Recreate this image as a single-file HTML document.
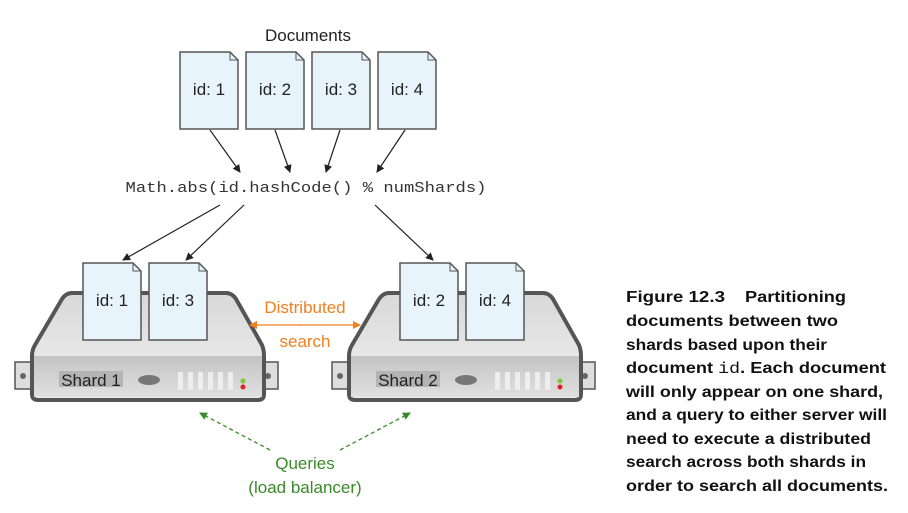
<!DOCTYPE html>
<html><head><meta charset="utf-8"><style>
body{margin:0;background:#fff}
svg{display:block}
.t{font-family:"Liberation Sans",sans-serif}
.c{font-family:"Liberation Sans",sans-serif;font-weight:bold;font-size:16px;fill:#111}
</style></head><body>
<svg width="908" height="513" viewBox="0 0 908 513" xmlns="http://www.w3.org/2000/svg">
<defs>
<marker id="ab" markerWidth="8" markerHeight="8" refX="7" refY="4" orient="auto" markerUnits="userSpaceOnUse"><path d="M0,0 L8,4 L0,8 z" fill="#222"/></marker>
<marker id="ao" markerWidth="8" markerHeight="8" refX="7" refY="4" orient="auto" markerUnits="userSpaceOnUse"><path d="M0,0 L8,4 L0,8 z" fill="#f08020"/></marker>
<marker id="ag" markerWidth="8" markerHeight="8" refX="7" refY="4" orient="auto" markerUnits="userSpaceOnUse"><path d="M0,0 L8,4 L0,8 z" fill="#3a8a2a"/></marker>
<linearGradient id="top" x1="0" y1="0" x2="0" y2="1"><stop offset="0" stop-color="#d8d8d8"/><stop offset="1" stop-color="#f2f2f2"/></linearGradient>
<linearGradient id="front" x1="0" y1="0" x2="0" y2="1"><stop offset="0" stop-color="#c4c4c4"/><stop offset="1" stop-color="#e0e0e0"/></linearGradient>
<g id="doc"><path d="M0,0 H50 L58,8 V77 H0 Z" fill="#e8f4fc" stroke="#555" stroke-width="1.5"/><path d="M50,0 V8 H58" fill="none" stroke="#555" stroke-width="1"/></g>
<g id="srv">
<rect x="15" y="362" width="20" height="27" fill="#ddd" stroke="#555" stroke-width="1.5"/>
<circle cx="23" cy="376" r="3" fill="#666"/>
<rect x="258" y="362" width="20" height="27" fill="#ddd" stroke="#555" stroke-width="1.5"/>
<circle cx="268" cy="376" r="3" fill="#666"/>
<path d="M72,293 H226 Q232,293 236,299 L262,345 Q264,350 264,356 V394 Q264,400 258,400 H38 Q32,400 32,394 V356 Q32,350 35,345 L62,299 Q66,293 72,293 Z" fill="url(#top)" stroke="#555" stroke-width="4"/>
<path d="M34,356 H262 V397 H34 Z" fill="url(#front)"/>
<rect x="59" y="371" width="64" height="16" fill="#b4b4b4"/>
<ellipse cx="149" cy="380" rx="11" ry="5" fill="#777"/>
<g fill="#eee"><rect x="178" y="372" width="5" height="18"/><rect x="188" y="372" width="5" height="18"/><rect x="198" y="372" width="5" height="18"/><rect x="208" y="372" width="5" height="18"/><rect x="218" y="372" width="5" height="18"/><rect x="228" y="372" width="5" height="18"/></g>
<circle cx="243" cy="381" r="2.5" fill="#7c3"/><circle cx="243" cy="387" r="2.5" fill="#d22"/>
</g>
</defs>
<text x="308" y="41" class="t" font-size="17" text-anchor="middle" fill="#222">Documents</text>
<use href="#doc" x="180" y="52"/><use href="#doc" x="246" y="52"/><use href="#doc" x="312" y="52"/><use href="#doc" x="378" y="52"/>
<g class="t" font-size="17" fill="#222" text-anchor="middle">
<text x="209" y="95">id: 1</text><text x="275" y="95">id: 2</text><text x="341" y="95">id: 3</text><text x="407" y="95">id: 4</text>
</g>
<g stroke="#222" stroke-width="1.2" fill="none" marker-end="url(#ab)">
<line x1="210" y1="130" x2="240" y2="172"/><line x1="275" y1="130" x2="290" y2="172"/><line x1="340" y1="130" x2="326" y2="172"/><line x1="405" y1="130" x2="377" y2="172"/>
<line x1="220" y1="205" x2="123" y2="260"/><line x1="244" y1="205" x2="186" y2="260"/><line x1="375" y1="205" x2="433" y2="260"/>
</g>
<text x="306" y="192" font-family="Liberation Mono,monospace" font-size="15" text-anchor="middle" fill="#333" textLength="361" lengthAdjust="spacingAndGlyphs">Math.abs(id.hashCode() % numShards)</text>
<use href="#srv"/>
<use href="#srv" x="317"/>
<use href="#doc" x="83" y="263"/><use href="#doc" x="149" y="263"/>
<use href="#doc" x="400" y="263"/><use href="#doc" x="466" y="263"/>
<g class="t" font-size="17" fill="#222" text-anchor="middle">
<text x="112" y="306">id: 1</text><text x="178" y="306">id: 3</text><text x="429" y="306">id: 2</text><text x="495" y="306">id: 4</text>
<text x="91" y="386">Shard 1</text><text x="408" y="386">Shard 2</text>
</g>
<text x="305" y="313" class="t" font-size="17" text-anchor="middle" fill="#f08020">Distributed</text>
<text x="305" y="347" class="t" font-size="17" text-anchor="middle" fill="#f08020">search</text>
<line x1="300" y1="325" x2="250" y2="325" stroke="#f08020" stroke-width="1.3" marker-end="url(#ao)"/>
<line x1="298" y1="325" x2="360" y2="325" stroke="#f08020" stroke-width="1.3" marker-end="url(#ao)"/>
<g stroke="#3a8a2a" stroke-width="1.3" stroke-dasharray="4,3" marker-end="url(#ag)">
<line x1="270" y1="450" x2="200" y2="413"/><line x1="340" y1="450" x2="410" y2="413"/>
</g>
<text x="305" y="469" class="t" font-size="17" text-anchor="middle" fill="#3a8a2a">Queries</text>
<text x="305" y="493" class="t" font-size="17" text-anchor="middle" fill="#3a8a2a">(load balancer)</text>
<text class="c" x="626" y="302" textLength="99" lengthAdjust="spacingAndGlyphs">Figure 12.3</text>
<text class="c" x="745" y="302" textLength="101" lengthAdjust="spacingAndGlyphs">Partitioning</text>
<text class="c" x="626" y="326" textLength="212" lengthAdjust="spacingAndGlyphs">documents between two</text>
<text class="c" x="626" y="350" textLength="201" lengthAdjust="spacingAndGlyphs">shards based upon their</text>
<text class="c" x="626" y="373" textLength="260" lengthAdjust="spacingAndGlyphs">document <tspan font-family="Liberation Mono,monospace" font-weight="normal">id</tspan>. Each document</text>
<text class="c" x="626" y="397" textLength="257" lengthAdjust="spacingAndGlyphs">will only appear on one shard,</text>
<text class="c" x="626" y="420" textLength="261" lengthAdjust="spacingAndGlyphs">and a query to either server will</text>
<text class="c" x="626" y="444" textLength="245" lengthAdjust="spacingAndGlyphs">need to execute a distributed</text>
<text class="c" x="626" y="467" textLength="240" lengthAdjust="spacingAndGlyphs">search across both shards in</text>
<text class="c" x="626" y="491" textLength="262" lengthAdjust="spacingAndGlyphs">order to search all documents.</text>
</svg>
</body></html>
